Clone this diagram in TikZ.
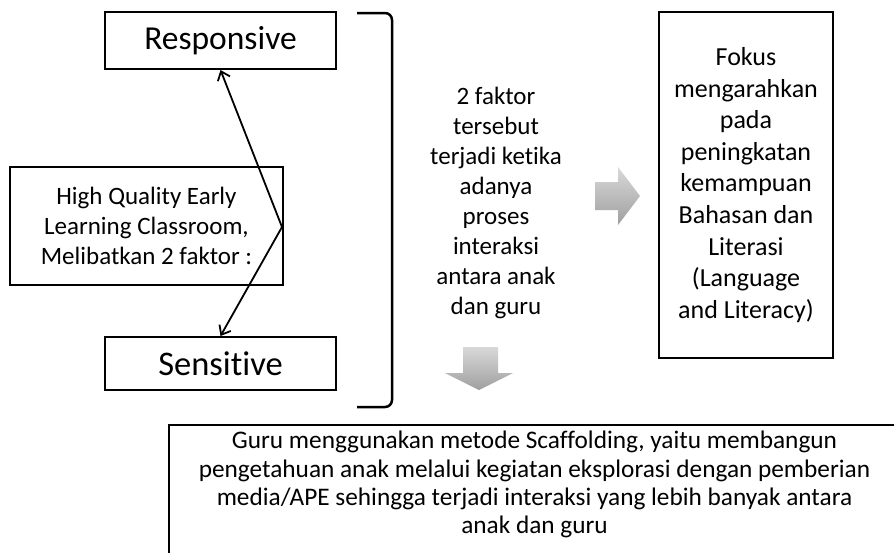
\documentclass[tikz,border=0pt]{standalone}
\usepackage{fontspec}
\setmainfont[Ligatures=NoCommon]{Carlito}
\usetikzlibrary{arrows.meta}
\begin{document}
\begin{tikzpicture}[x=1pt,y=-1pt,
  box/.style={draw, line width=2pt, inner sep=0pt, align=center},
  conn/.style={line width=1.8pt, -{Straight Barb[length=8pt,width=13pt,line width=1.8pt]}},
  blockarrow/.style={top color=gray!30, bottom color=gray!75, draw=none},
  txt/.style={font=\fontsize{25}{30}\selectfont}]
  \clip (0,0) rectangle (894,552);
  \fill[white] (0,0) rectangle (894,552);

  % the two factor boxes
  \node[box, minimum width=231pt, minimum height=57pt,
        font=\fontsize{33.5}{38}\selectfont] (resp) at (220.5,40.5) {Responsive};
  \node[box, minimum width=231pt, minimum height=53pt,
        font=\fontsize{34.5}{38}\selectfont] (sens) at (220.5,363.5) {Sensitive};

  % central box
  \node[box, txt, minimum width=273pt, minimum height=118pt] (hq) at (146.5,226)
    {High Quality Early\\Learning Classroom,\\Melibatkan 2 faktor :};

  % arrows from the central box out to both factors
  \coordinate (v) at (282,227);
  \draw[conn] (v) -- (resp.south);
  \draw[conn] (v) -- (sens.north);

  % closing bracket
  \draw[line width=2.5pt, rounded corners=7pt]
    (357,13) -- (392,13) -- (392,407) -- (357,407);

  % explanation text
  \node[txt, align=center, inner sep=0pt] (why) at (496,203)
    {2 faktor\\tersebut\\terjadi ketika\\adanya\\proses\\interaksi\\antara anak\\dan guru};

  % right focus box
  \node[box, minimum width=174pt, minimum height=346pt,
        font=\fontsize{26}{31.6}\selectfont] (focus) at (746,185)
    {Fokus\\mengarahkan\\pada\\peningkatan\\kemampuan\\Bahasan dan\\Literasi\\(Language\\and Literacy)};

  % block arrow to the right
  \path[blockarrow] (595,182) -- (618,182) -- (618,167) -- (640,196)
    -- (618,225) -- (618,210) -- (595,210) -- cycle;

  % block arrow downward
  \path[blockarrow] (463,347) -- (498,347) -- (498,373) -- (513,373)
    -- (479,390) -- (445,373) -- (463,373) -- cycle;

  % bottom method box
  \draw[line width=2pt] (169,425) rectangle (902,560);
  \node[font=\fontsize{25.3}{28.3}\selectfont, align=center, inner sep=0pt,
        anchor=north] (method) at (534.5,431)
    {Guru menggunakan metode Scaffolding, yaitu membangun\\
     pengetahuan anak melalui kegiatan eksplorasi dengan pemberian\\
     media/APE sehingga terjadi interaksi yang lebih banyak antara\\
     anak dan guru};
\end{tikzpicture}
\end{document}
